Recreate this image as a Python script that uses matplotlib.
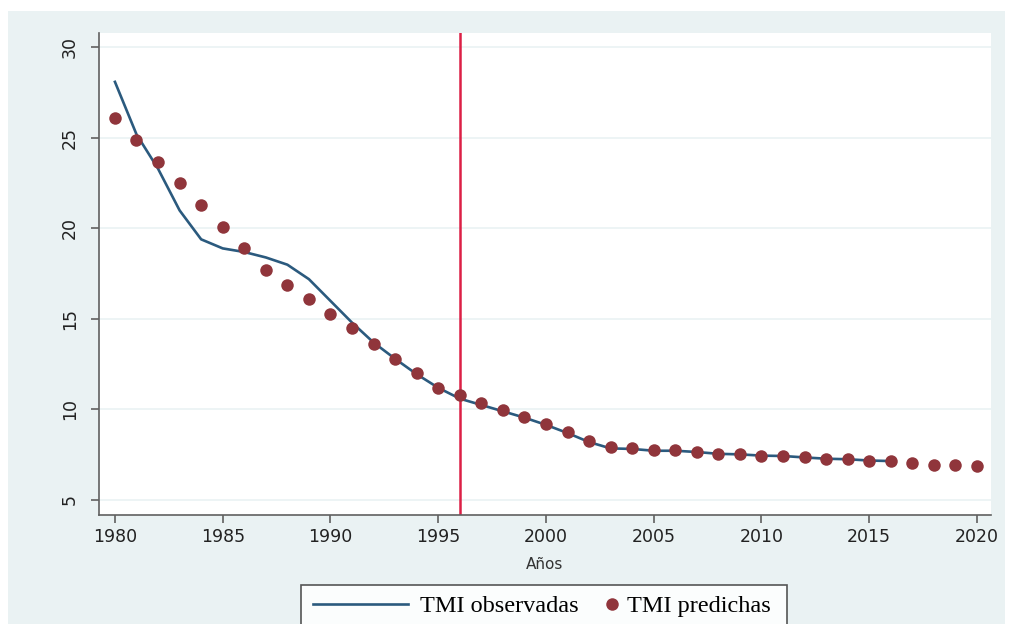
import matplotlib.pyplot as plt
from matplotlib.patches import Rectangle

# observed infant mortality rate (line), 1980-2016
years_obs = list(range(1980, 2017))
tmi_obs = [28.1, 25.2, 23.3, 21.0, 19.4, 18.9, 18.7, 18.4, 18.0, 17.2,
           16.0, 14.8, 13.7, 12.8, 11.95, 11.2, 10.6, 10.25, 9.9, 9.55,
           9.15, 8.7, 8.2, 7.85, 7.82, 7.72, 7.72, 7.65, 7.55, 7.52,
           7.45, 7.43, 7.35, 7.28, 7.25, 7.18, 7.15]

# predicted values (dots), 1980-2020
years_pred = list(range(1980, 2021))
tmi_pred = [26.1, 24.9, 23.7, 22.5, 21.3, 20.1, 18.9, 17.7, 16.9, 16.1,
            15.3, 14.5, 13.6, 12.8, 12.0, 11.2, 10.8, 10.35, 9.95, 9.6,
            9.2, 8.75, 8.25, 7.9, 7.88, 7.75, 7.75, 7.66, 7.55, 7.55,
            7.45, 7.45, 7.36, 7.25, 7.25, 7.15, 7.13, 7.03, 6.95, 6.95,
            6.85]

cut_year = 1996
x_ticks = list(range(1980, 2021, 5))
y_ticks = [5, 10, 15, 20, 25, 30]

bg = "#eaf2f3"
line_col = "#2b5a7e"
dot_col = "#90353b"
W, H = 1012, 624

fig = plt.figure(figsize=(W / 100, H / 100), dpi=100)
fig.patches.append(Rectangle((8 / W, 0), 997 / W, 1 - 11 / H,
                             transform=fig.transFigure, facecolor=bg,
                             edgecolor="none", zorder=-10))

ax = fig.add_axes([99 / W, 1 - 515 / H, 892 / W, 482 / H])
ax.set_facecolor("white")

obs_line, = ax.plot(years_obs, tmi_obs, color=line_col, lw=1.9, zorder=3)
pred_dots, = ax.plot(years_pred, tmi_pred, "o", color=dot_col, ms=9, mec="none",
                     zorder=4)
ax.axvline(cut_year, color="#dc1f45", lw=1.8, zorder=2)

ax.set_xlim(1979.26, 2020.65)
ax.set_ylim(4.17, 30.8)
ax.set_xticks(x_ticks)
ax.set_yticks(y_ticks)
ax.grid(axis="y", color=bg, lw=1.2)
ax.set_axisbelow(True)

for s in ["top", "right"]:
    ax.spines[s].set_visible(False)
for s in ["left", "bottom"]:
    ax.spines[s].set_color("#606060")
    ax.spines[s].set_linewidth(1.2)

ax.tick_params(colors="#606060", length=5.5, width=1.2, labelcolor="#222222",
               labelsize=12.5)
ax.tick_params(axis="y", pad=9)
for lab in ax.get_yticklabels():
    lab.set_rotation(90)
    lab.set_va("center")

ax.set_xlabel("Años", fontsize=11, color="#333333", labelpad=8)

# legend: one frame, two entries placed like the original
fig.patches.append(Rectangle((301 / W, -0.05), 486 / W, 0.05 + 1 - 585 / H,
                             transform=fig.transFigure, facecolor="#fbfdfd",
                             edgecolor="#555555", lw=1.2, zorder=5))
fs = 17.5
leg_y = 1 - 606 / H
leg1 = fig.legend([obs_line], ["TMI observadas"], loc="center left",
                  bbox_to_anchor=(313 / W, leg_y), frameon=False,
                  prop={"family": "Liberation Serif", "size": fs},
                  handlelength=3.91, handletextpad=0.49,
                  borderpad=0, borderaxespad=0)
leg2 = fig.legend([pred_dots], ["TMI predichas"], loc="center left",
                  bbox_to_anchor=(599.9 / W, leg_y), frameon=False,
                  prop={"family": "Liberation Serif", "size": fs},
                  handlelength=1.0, handletextpad=0.115,
                  borderpad=0, borderaxespad=0)
leg1.set_zorder(6)
leg2.set_zorder(6)

fig.savefig("out.png", dpi=100)
